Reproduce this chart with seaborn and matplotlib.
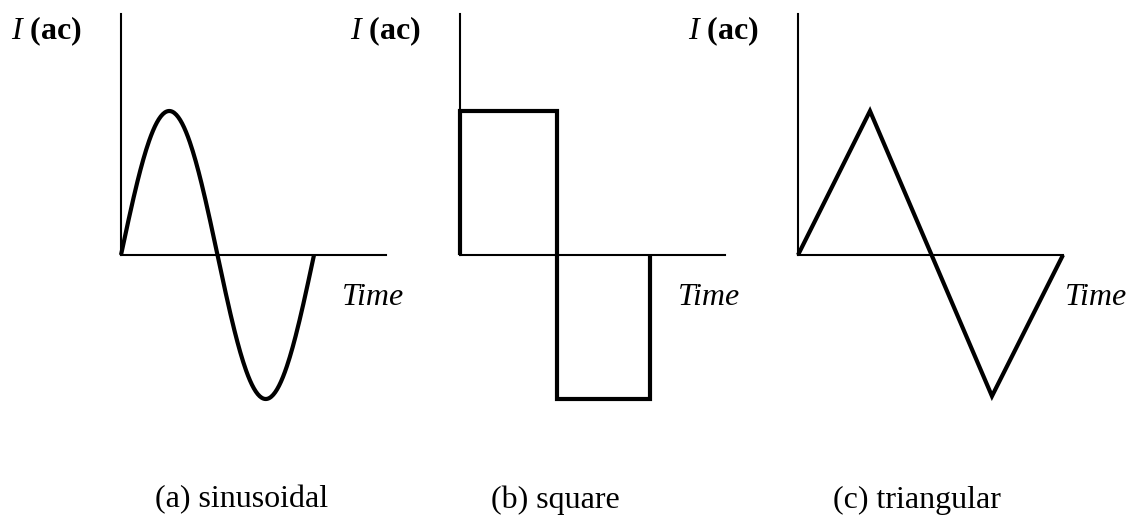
import matplotlib
matplotlib.use("Agg")
import matplotlib.pyplot as plt
import numpy as np
import pandas as pd
import seaborn as sns

# ──── data (time in units of one sine period, current in units of peak) ────
sine_period = 1.0
sine_amplitude = 1.0

square_time = [0.0, 0.0, 0.5, 0.5, 0.985, 0.985, 0.985]
square_current = [0.0, 1.0, 1.0, -1.0, -1.0, 0.0, 0.0]

tri_time = [0.0, 0.373, 1.005, 1.373]
tri_current = [0.0, 1.0, -0.98, 0.0]

axis_length = [1.373, 1.373, 1.373]
captions = ["(a) sinusoidal", "(b) square", "(c) triangular"]
y_label = r"$\mathit{I}$ $\mathbf{(ac)}$"
x_label = "Time"
time_label_x = [1.145, 1.13, 1.383]

# ──── style ────
sns.set_theme(style="white")
plt.rcParams["font.family"] = ["Liberation Serif", "DejaVu Serif"]
plt.rcParams["mathtext.fontset"] = "custom"
plt.rcParams["mathtext.rm"] = "Liberation Serif"
plt.rcParams["mathtext.it"] = "Liberation Serif:italic"
plt.rcParams["mathtext.bf"] = "Liberation Serif:bold"

W, H = 1126, 527
fig = plt.figure(figsize=(W / 100, H / 100), dpi=100)

px_x = 193.0   # pixels per time unit
px_y = 144.0   # pixels per current unit
ylim = (-1.1, 1.675)
xlim = (0.0, 1.42)
origins = [121, 460, 798]
axis_y_px = 255

sine_t = np.linspace(0, sine_period, 200)
sine_i = sine_amplitude * np.sin(2 * np.pi * sine_t / sine_period)

waves = [
    pd.DataFrame({"t": sine_t, "i": sine_i}),
    pd.DataFrame({"t": square_time, "i": square_current}),
    pd.DataFrame({"t": tri_time, "i": tri_current}),
]

for k, (ox, df) in enumerate(zip(origins, waves)):
    top_px = axis_y_px - ylim[1] * px_y
    bottom_px = axis_y_px - ylim[0] * px_y
    ax = fig.add_axes([
        ox / W,
        1 - bottom_px / H,
        (xlim[1] - xlim[0]) * px_x / W,
        (bottom_px - top_px) / H,
    ])
    ax.set_facecolor("none")

    sns.lineplot(data=df, x="t", y="i", ax=ax, sort=False, estimator=None,
                 color="black", linewidth=3.0, clip_on=False,
                 solid_joinstyle="miter", solid_capstyle="butt")

    ax.set_xlim(*xlim)
    ax.set_ylim(*ylim)
    for side in ["top", "right"]:
        ax.spines[side].set_visible(False)
    ax.spines["left"].set_position(("data", 0))
    ax.spines["left"].set_bounds(0, ylim[1])
    ax.spines["bottom"].set_position(("data", 0))
    ax.spines["bottom"].set_bounds(0, axis_length[k])
    for side in ["left", "bottom"]:
        ax.spines[side].set_color("black")
        ax.spines[side].set_linewidth(1.5)
    ax.set_xticks([])
    ax.set_yticks([])
    ax.set_xlabel("")
    ax.set_ylabel("")

    ax.text(-39 / px_x, (axis_y_px - 31) / px_y, y_label, ha="right",
            va="center", fontsize=23, color="black", clip_on=False)
    ax.text(time_label_x[k], -50 / px_y, x_label, ha="left", va="baseline",
            fontsize=23, fontstyle="italic", color="black", clip_on=False)

caption_x = [242, 555, 917]
for cx, cap in zip(caption_x, captions):
    fig.text(cx / W, 1 - 500 / H, cap, ha="center", va="center",
             fontsize=23, color="black")

fig.savefig("out.png", dpi=100)
plt.close(fig)
